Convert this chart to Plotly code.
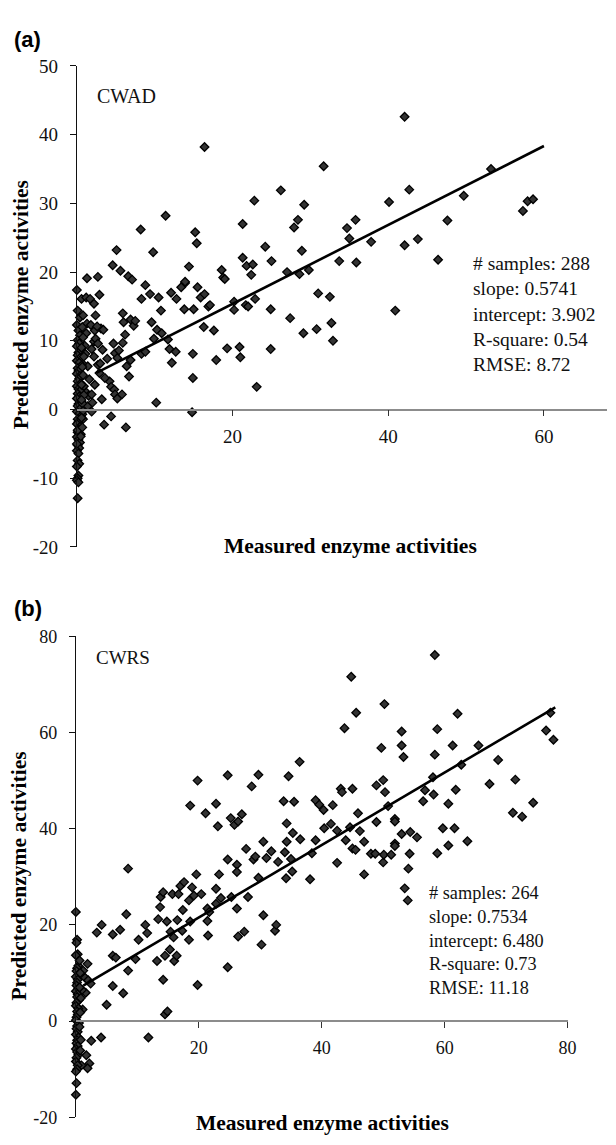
import plotly.graph_objects as go

# ---------------- Panel (a) CWAD data (measured, predicted) ----------------
cwad_upper = [
    (1.3, 19.1), (2.7, 19.3), (4.6, 21.0), (5.1, 23.2), (5.6, 20.2), (6.6, 19.4), (7.1, 18.9),
    (8.2, 26.2), (8.8, 18.1), (9.8, 22.9), (11.4, 28.2), (13.9, 18.4), (14.4, 20.8), (15.2, 25.8),
    (15.4, 24.2), (16.4, 38.2), (18.6, 20.3), (18.8, 19.2), (19.0, 19.0), (21.3, 22.1), (21.3, 27.0),
    (21.8, 20.9), (22.4, 19.6), (22.6, 21.1), (22.8, 30.4), (24.2, 23.7), (25.0, 21.6), (26.2, 31.9),
    (27.0, 20.0), (27.9, 26.5), (28.4, 27.6), (28.6, 19.7), (28.9, 23.1), (29.2, 29.8), (29.8, 20.3),
    (31.7, 35.4), (33.7, 21.6), (34.7, 26.4), (35.0, 24.9), (35.8, 27.6), (35.9, 21.4), (37.8, 24.4),
    (40.1, 30.2), (42.1, 42.6), (42.1, 23.9), (42.7, 32.0), (43.8, 24.8), (46.4, 21.8), (47.6, 27.5),
    (49.7, 31.1), (53.2, 35.0), (57.3, 28.9), (57.9, 30.3), (58.6, 30.6),
]
cwad_middle = [
    (0.0, 17.4), (0.1, 14.4), (0.4, 13.4), (0.6, 16.1), (0.8, 13.7), (1.2, 16.3), (1.7, 16.1),
    (2.2, 15.4), (2.4, 13.7), (2.9, 16.7), (8.3, 16.1), (9.4, 16.8), (10.5, 16.3), (10.8, 14.4),
    (12.1, 17.0), (12.8, 16.1), (13.4, 17.8), (13.9, 18.6), (13.8, 14.6), (15.0, 14.6), (15.5, 17.8),
    (15.9, 16.3), (16.4, 16.8), (16.9, 15.0), (17.1, 15.2), (20.2, 15.7), (20.2, 14.5), (21.7, 15.2),
    (22.0, 15.0), (22.9, 16.1), (24.9, 14.6), (27.4, 13.3), (29.1, 11.1), (31.0, 16.9), (30.8, 11.7),
    (32.5, 16.4), (32.7, 12.6), (32.9, 10.0), (40.9, 14.4), (9.6, 12.7), (10.3, 11.6), (9.9, 10.3),
    (10.2, 1.0), (10.9, 11.1), (11.7, 10.2), (11.9, 8.8), (12.2, 6.8), (12.7, 8.4), (14.9, 8.1),
    (14.9, 4.6), (14.8, -0.4), (16.3, 12.0), (17.6, 11.5), (17.9, 7.2), (19.3, 8.9), (20.9, 9.1),
    (21.0, 7.6), (23.1, 3.3), (24.9, 8.8), (6.4, 6.3), (6.7, 4.8), (5.9, 14.0), (6.0, 12.7),
    (6.2, 10.9), (5.9, 9.7), (6.9, 13.1), (7.3, 12.2), (7.5, 12.9), (6.9, 7.2), (8.3, 8.1),
    (8.8, 8.4), (4.7, 9.6), (4.9, 8.2), (5.2, 7.5), (5.4, 8.6), (4.2, 4.1), (4.4, 3.3), (4.8, 2.9),
    (4.9, 2.2), (5.2, 1.6), (5.8, 2.2), (3.5, -2.2), (4.4, -1.0), (6.3, -2.6), (3.2, 1.5),
    (2.3, 3.6), (1.9, -0.3), (2.2, 9.9), (2.4, 10.3), (2.7, 9.6), (3.1, 11.8), (3.4, 11.6),
    (2.3, 11.5), (2.7, 6.5), (3.0, 6.7), (2.9, 5.3), (2.2, 7.7), (1.4, 6.3), (1.3, 12.5),
    (1.2, 11.1), (1.2, 2.5), (1.5, 2.0), (1.9, 2.2), (0.9, 0.5), (1.4, 0.5), (0.7, -0.7),
    (0.8, -1.4), (1.9, 8.8), (0.7, 6.7), (3.6, 4.6), (3.9, 7.4), (1.0, 9.3), (1.6, 4.4),
    (2.0, 1.0), (0.9, 3.4), (1.1, 8.1), (1.8, 12.3), (2.6, 12.1), (3.3, 8.7),
]
cwad_zero_x = [
    0.0, 0.2, 0.4, 0.1, 0.3, 0.0, 0.5, 0.2, 0.1, 0.4, 0.0, 0.3, 0.6, 0.1, 0.2, 0.0, 0.4, 0.3,
    0.1, 0.5, 0.0, 0.2, 0.4, 0.1, 0.3, 0.0, 0.6, 0.2, 0.1, 0.4, 0.0, 0.3, 0.5, 0.1, 0.2, 0.0,
    0.4, 0.3, 0.1, 0.5, 0.0, 0.2, 0.4, 0.1, 0.3, 0.0, 0.2, 0.1, 0.3, 0.0, 0.2, 0.1, 0.0, 0.2,
    0.1, 0.0, 0.1, 0.7, 0.8, 0.6, 0.9, 0.7, 0.8, 0.6, 0.9, 0.7, 0.8, 0.6, 0.7, 0.5, 0.6,
]
cwad_zero_y = [
    12.3, 11.5, 10.8, 10.1, 9.6, 9.2, 8.7, 8.3, 7.9, 7.5, 7.1, 6.8, 6.4, 6.0, 5.6, 5.2, 4.9, 4.5,
    4.1, 3.8, 3.4, 3.0, 2.7, 2.3, 1.9, 1.6, 1.2, 0.8, 0.5, 0.1, -0.3, -0.6, -1.0, -1.4, -1.8, -2.1,
    -2.5, -2.9, -3.3, -3.6, -4.0, -4.4, -4.8, -5.2, -5.6, -6.0, -6.4, -7.4, -7.9, -8.3, -9.6, -10.0,
    -10.3, -10.6, -12.9, -5.0, -3.0, 12.0, 10.5, 9.0, 7.7, 6.2, 5.0, 3.6, 2.1, 0.9, -0.2, -1.2,
    -2.6, -3.9, 1.4,
]
cwad_fit = {"slope": 0.5741, "intercept": 3.902, "x_start": 2.5, "x_end": 60.0}
cwad_stats = ["# samples: 288", "slope: 0.5741", "intercept: 3.902", "R-square: 0.54", "RMSE: 8.72"]
cwad_xticks = [20, 40, 60]
cwad_yticks = [-20, -10, 0, 10, 20, 30, 40, 50]

# ---------------- Panel (b) CWRS data (measured, predicted) ----------------
cwrs_upper = [
    (18.6, 44.8), (19.8, 50.0), (21.1, 43.2), (22.8, 45.2), (23.1, 40.5), (24.7, 51.1), (25.2, 42.2),
    (25.8, 40.8), (26.4, 41.5), (27.0, 43.0), (28.6, 48.8), (29.7, 51.2), (30.5, 37.3), (33.8, 45.7),
    (34.3, 41.1), (34.3, 37.3), (34.6, 50.9), (35.3, 39.1), (35.5, 45.6), (36.4, 53.9), (36.5, 37.8),
    (39.0, 37.6), (39.0, 45.9), (39.6, 45.0), (40.3, 43.9), (40.4, 40.1), (41.5, 41.0), (41.8, 44.9),
    (42.5, 39.6), (43.1, 48.3), (43.3, 47.6), (43.7, 60.9), (43.9, 37.6), (44.6, 40.3), (44.8, 71.6),
    (45.0, 48.3), (45.6, 64.1), (45.9, 43.2), (46.2, 39.5), (46.9, 37.3), (48.9, 49.0), (48.9, 41.4),
    (49.7, 56.8), (50.0, 50.1), (50.2, 65.9), (50.3, 47.6), (50.8, 44.7), (51.9, 42.0), (51.9, 41.5),
    (51.9, 36.9), (53.0, 38.9), (53.0, 60.2), (53.0, 57.3), (53.3, 54.9), (54.4, 39.3), (55.5, 38.2),
    (56.5, 45.7), (56.8, 48.0), (58.1, 50.7), (58.2, 47.1), (58.4, 76.1), (58.4, 55.4), (58.8, 60.7),
    (59.7, 40.1), (60.6, 45.2), (61.3, 57.3), (61.6, 40.1), (61.8, 48.1), (62.1, 63.9), (62.7, 53.3),
    (63.7, 37.4), (65.5, 57.3), (67.3, 49.3), (68.7, 54.3), (71.1, 43.3), (71.5, 50.2), (72.6, 42.5),
    (74.4, 45.4), (76.5, 60.4), (77.2, 64.1), (77.7, 58.5),
]
cwrs_middle = [
    (8.5, 31.7), (24.7, 33.6), (26.2, 32.5), (26.2, 31.0), (27.7, 35.8), (28.9, 33.6), (29.2, 34.2),
    (31.0, 33.9), (31.8, 35.3), (32.9, 33.1), (34.0, 35.1), (34.2, 29.7), (35.0, 33.7), (35.2, 31.1),
    (38.1, 29.5), (38.4, 34.9), (42.5, 32.9), (45.0, 35.9), (45.5, 35.6), (46.9, 30.5), (48.0, 34.8),
    (48.7, 34.8), (50.0, 33.0), (50.1, 34.6), (51.3, 34.6), (51.9, 36.4), (53.5, 27.6), (54.0, 25.1),
    (54.1, 31.7), (54.3, 34.8), (58.8, 34.9), (60.6, 36.5), (3.4, 18.4), (4.2, 20.0), (5.0, 3.4),
    (6.0, 18.0), (6.0, 7.3), (6.0, 13.6), (6.5, 13.2), (7.2, 19.0), (7.7, 5.8), (8.2, 22.2),
    (8.5, 10.5), (9.7, 12.9), (10.2, 16.9), (11.3, 20.0), (11.6, 18.3), (11.8, -3.4), (13.2, 12.5),
    (13.4, 21.2), (13.7, 23.7), (13.8, 25.8), (14.2, 26.8), (14.2, 8.6), (14.5, 1.4), (14.9, 2.0),
    (14.5, 13.6), (15.3, 14.9), (14.8, 20.7), (15.4, 18.6), (15.7, 26.4), (15.9, 17.4), (16.0, 12.5),
    (16.4, 13.6), (16.5, 21.0), (16.7, 26.4), (17.0, 28.1), (17.3, 18.8), (17.4, 23.1), (17.6, 28.9),
    (18.4, 16.9), (18.4, 25.1), (18.6, 20.7), (18.9, 27.8), (19.2, 26.1), (19.6, 30.5), (19.8, 7.5),
    (20.4, 26.4), (21.4, 23.4), (21.4, 20.8), (21.5, 17.8), (21.7, 22.7), (22.8, 27.5), (22.8, 24.4),
    (23.3, 30.5), (23.6, 25.6), (24.7, 11.2), (25.3, 25.8), (26.2, 23.4), (26.4, 17.6), (27.4, 18.6),
    (28.0, 25.8), (29.7, 29.8), (30.2, 15.9), (30.5, 22.0), (32.4, 18.8), (32.6, 20.0), (1.9, 11.9),
    (1.6, 5.9), (1.1, 2.4), (2.5, -4.1), (4.1, -3.4), (1.7, -7.1), (2.2, -8.8), (1.9, -9.8),
    (0.9, -9.2), (1.5, 9.0), (2.0, 8.5), (1.2, 10.5), (2.4, 7.8), (1.0, 6.5),
]
cwrs_zero_x = [
    0.0, 0.2, 0.1, 0.3, 0.0, 0.4, 0.2, 0.1, 0.5, 0.0, 0.3, 0.2, 0.1, 0.4, 0.0, 0.3, 0.2, 0.5,
    0.1, 0.0, 0.4, 0.2, 0.3, 0.1, 0.0, 0.5, 0.2, 0.1, 0.3, 0.0, 0.4, 0.2, 0.1, 0.3, 0.0, 0.2,
    0.4, 0.1, 0.0, 0.3, 0.2, 0.0, 0.1, 0.0, 0.6, 0.7, 0.6, 0.8, 0.7, 0.6, 0.8, 0.7,
]
cwrs_zero_y = [
    22.7, 16.9, 16.3, 13.9, 13.7, 11.5, 11.0, 10.4, 9.8, 9.2, 8.6, 8.0, 7.4, 6.8, 6.2, 5.6, 5.0, 4.4,
    3.8, 3.2, 2.6, 2.0, 1.4, 0.8, 0.2, -0.4, -1.0, -1.6, -2.2, -2.8, -3.4, -4.0, -4.6, -5.2, -5.8,
    -6.4, -7.0, -7.6, -8.4, -9.2, -10.0, -10.5, -12.9, -15.3, 12.6, 10.0, 7.0, 4.8, 1.8, -1.2,
    -3.9, -6.1,
]
cwrs_fit = {"slope": 0.7534, "intercept": 6.480, "x_start": 1.2, "x_end": 78.0}
cwrs_stats = ["# samples: 264", "slope: 0.7534", "intercept: 6.480", "R-square: 0.73", "RMSE: 11.18"]
cwrs_xticks = [20, 40, 60, 80]
cwrs_yticks = [-20, 0, 20, 40, 60, 80]

# ---------------- layout geometry (pixels of the 616 x 1145 page) ----------------
W, H = 616, 1145
SERIF = "Liberation Serif, Times New Roman, serif"


def py(p):
    return 1 - p / H


def labels(vals):
    return [str(v) for v in vals]  # plain hyphen-minus, as in the original


marker = dict(symbol="diamond", size=6.6, color="#333333", line=dict(color="#000000", width=1.3))


def add_panel(fig, upper, middle, zx, zy, fit, xa, ya):
    xs = [p[0] for p in upper] + [p[0] for p in middle] + list(zx)
    ys = [p[1] for p in upper] + [p[1] for p in middle] + list(zy)
    fig.add_trace(go.Scatter(x=xs, y=ys, mode="markers", marker=marker, xaxis=xa, yaxis=ya,
                             cliponaxis=False, showlegend=False, hoverinfo="x+y"))
    lx = [fit["x_start"], fit["x_end"]]
    ly = [fit["intercept"] + fit["slope"] * v for v in lx]
    fig.add_trace(go.Scatter(x=lx, y=ly, mode="lines", line=dict(color="black", width=2.6),
                             xaxis=xa, yaxis=ya, cliponaxis=False, showlegend=False, hoverinfo="skip"))


fig = go.Figure()
add_panel(fig, cwad_upper, cwad_middle, cwad_zero_x, cwad_zero_y, cwad_fit, "x", "y")
add_panel(fig, cwrs_upper, cwrs_middle, cwrs_zero_x, cwrs_zero_y, cwrs_fit, "x2", "y2")

common_x = dict(showgrid=False, zeroline=False, showline=True, linecolor="#8c8c8c", linewidth=1.6,
                ticks="outside", ticklen=6, tickwidth=1, tickcolor="#333",
                ticklabelstandoff=4, fixedrange=True)
common_y = dict(showgrid=False, zeroline=False, showline=True, linecolor="#111", linewidth=1,
                ticks="outside", ticklen=6, tickwidth=1, tickcolor="#111",
                ticklabelstandoff=8, fixedrange=True)

fig.update_layout(
    width=W, height=H, margin=dict(l=0, r=0, t=0, b=0),
    paper_bgcolor="white", plot_bgcolor="white",
    xaxis=dict(domain=[78 / W, 1.0], range=[0, 68.1], anchor="free", position=py(407),
               tickvals=cwad_xticks, ticktext=labels(cwad_xticks),
               tickfont=dict(family=SERIF, size=19, color="#111"), **common_x),
    yaxis=dict(domain=[py(547), py(57)], range=[-20, 50], tickvals=cwad_yticks, ticktext=labels(cwad_yticks),
               anchor="x", tickfont=dict(family=SERIF, size=19, color="#111"), **common_y),
    xaxis2=dict(domain=[77 / W, 576 / W], range=[0, 80], anchor="free", position=py(1030),
                tickvals=cwrs_xticks, ticktext=labels(cwrs_xticks),
                tickfont=dict(family=SERIF, size=18, color="#111"), **common_x),
    yaxis2=dict(domain=[py(1128), py(638)], range=[-20, 80], tickvals=cwrs_yticks, ticktext=labels(cwrs_yticks),
                anchor="x2", tickfont=dict(family=SERIF, size=18, color="#111"), **common_y),
)

ann = []
# panel letters
ann.append(dict(text="<b>(a)</b>", x=12 / W, y=py(30), xref="paper", yref="paper", xanchor="left",
                yanchor="middle", showarrow=False, font=dict(family="Liberation Sans, Arial", size=22, color="black")))
ann.append(dict(text="<b>(b)</b>", x=12 / W, y=py(610), xref="paper", yref="paper", xanchor="left",
                yanchor="middle", showarrow=False, font=dict(family="Liberation Sans, Arial", size=22, color="black")))
# dataset names
ann.append(dict(text="CWAD", x=2.3, y=45.7, xref="x", yref="y", xanchor="left", yanchor="middle",
                showarrow=False, font=dict(family=SERIF, size=20, color="#111")))
ann.append(dict(text="CWRS", x=3.0, y=75.5, xref="x2", yref="y2", xanchor="left", yanchor="middle",
                showarrow=False, font=dict(family=SERIF, size=19, color="#111")))
# statistics blocks
ann.append(dict(text="<br>".join(cwad_stats), x=50.6, y=13.9, xref="x", yref="y", xanchor="left",
                yanchor="middle", align="left", showarrow=False, font=dict(family=SERIF, size=19.5, color="#111")))
ann.append(dict(text="<br>".join(cwrs_stats), x=57.2, y=16.8, xref="x2", yref="y2", xanchor="left",
                yanchor="middle", align="left", showarrow=False, font=dict(family=SERIF, size=18.3, color="#111")))
# axis titles
ann.append(dict(text="<b>Measured enzyme activities</b>", x=356 / W, y=py(546), xref="paper", yref="paper",
                xanchor="center", yanchor="middle", showarrow=False, font=dict(family=SERIF, size=21.5, color="black")))
ann.append(dict(text="<b>Measured enzyme activities</b>", x=327 / W, y=py(1134), xref="paper", yref="paper",
                xanchor="center", yanchor="middle", showarrow=False, font=dict(family=SERIF, size=21.5, color="black")))
ann.append(dict(text="<b>Predicted enzyme activities</b>", x=22 / W, y=py(300), xref="paper", yref="paper",
                xanchor="center", yanchor="middle", textangle=-90, showarrow=False,
                font=dict(family=SERIF, size=21.5, color="black")))
ann.append(dict(text="<b>Predicted enzyme activities</b>", x=19 / W, y=py(882), xref="paper", yref="paper",
                xanchor="center", yanchor="middle", textangle=-90, showarrow=False,
                font=dict(family=SERIF, size=21.5, color="black")))
fig.update_layout(annotations=ann)

fig.write_html("out.html")
